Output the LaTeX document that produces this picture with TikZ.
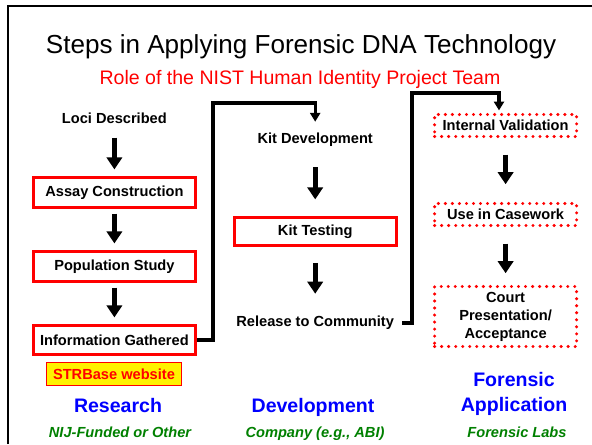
\documentclass[tikz,border=0pt]{standalone}
\usepackage{fontspec}
\setmainfont{Liberation Sans}
\usetikzlibrary{arrows.meta}
\definecolor{labgreen}{RGB}{0,128,0}
\newcommand{\stepfont}{\bfseries\fontsize{10.4}{12.8}\selectfont}
\newcommand{\headfont}{\bfseries\fontsize{13.9}{17.8}\selectfont}
\newcommand{\whofont}{\bfseries\itshape\fontsize{10.4}{12.8}\selectfont}

\begin{document}
\begin{tikzpicture}[
    steptext/.style={font=\stepfont, inner sep=0pt, minimum height=0.75cm},
    redbox/.style={draw=red, line width=2.4pt, font=\stepfont, inner sep=0pt, minimum width=4.05cm, minimum height=0.75cm},
    dotbox/.style={draw=red, line width=2.4pt, dash pattern=on 0pt off 5pt, line cap=round, font=\stepfont, inner sep=0pt, minimum width=3.55cm, minimum height=0.55cm, align=center},
    bigarrow/.style={line width=3.4pt, -{Triangle[width=0.38cm, length=0.3cm]}},
    link/.style={line width=2.3pt, -{Triangle[width=0.25cm, length=0.22cm]}},
    group/.style={font=\headfont, text=blue, align=center},
    who/.style={font=\whofont, text=labgreen, anchor=base}
  ]
  \useasboundingbox (0, 0) rectangle (14.8, 11.1);
  \draw[line width=2.1pt] (0.2, 0) -- (0.2, 10.95) -- (14.8, 10.95);

  \node[anchor=base, font=\fontsize{18.55}{22}\selectfont] (title) at (7.525, 9.775) {Steps in Applying Forensic DNA Technology};
  \node[anchor=base, text=red, font=\fontsize{13.9}{16}\selectfont] (subtitle) at (7.5, 9.0) {Role of the NIST Human Identity Project Team};

  % research
  \node[steptext] (loci) at (2.86, 8.15) {Loci Described};
  \node[redbox] (assay) at (2.86, 6.2875) {Assay Construction};
  \node[redbox] (population) at (2.86, 4.4375) {Population Study};
  \node[redbox, minimum height=0.725cm] (info) at (2.86, 2.6) {Information Gathered};
  \node[draw=red, line width=1.4pt, fill=yellow, text=red, font=\stepfont, inner sep=0pt,
        minimum width=3.375cm, minimum height=0.575cm] (strbase) at (2.85, 1.75) {STRBase website};
  \node[group, anchor=base] (research) at (2.95, 0.8) {Research};
  \node[who] (nij) at (3.0, 0.175) {NIJ-Funded or Other};

  \draw[bigarrow, shorten <=0.11cm, shorten >=0.16cm] (loci) -- (assay);
  \draw[bigarrow, shorten <=0.11cm, shorten >=0.16cm] (assay) -- (population);
  \draw[bigarrow, shorten <=0.11cm, shorten >=0.16cm] (population) -- (info);

  % development
  \node[steptext] (kitdev) at (7.88, 7.6) {Kit Development};
  \node[redbox, minimum height=0.7cm] (kittest) at (7.88, 5.3125) {Kit Testing};
  \node[steptext] (release) at (7.88, 3.025) {Release to Community};
  \node[group, anchor=base] (development) at (7.825, 0.8) {Development};
  \node[who] (company) at (7.875, 0.175) {Company (e.g., ABI)};

  \draw[bigarrow, shorten <=0.3cm, shorten >=0.41cm] (kitdev) -- (kittest);
  \draw[bigarrow, shorten <=0.39cm, shorten >=0.35cm] (kittest) -- (release);

  % forensic application
  \node[dotbox] (validation) at (12.64, 7.9625) {Internal Validation};
  \node[dotbox] (casework) at (12.64, 5.7375) {Use in Casework};
  \node[dotbox, minimum height=1.5cm] (court) at (12.64, 3.1875) {Court\\Presentation/\\Acceptance};
  \node[group] (forensic) at (12.85, 1.24) {Forensic\\Application};
  \node[who] (labs) at (12.925, 0.175) {Forensic Labs};

  \draw[bigarrow, shorten <=0.41cm, shorten >=0.44cm] (validation) -- (casework);
  \draw[bigarrow, shorten <=0.41cm, shorten >=0.29cm] (casework) -- (court);

  % hand-over lines
  \draw[link, shorten >=0.075cm] (info.east) -| (5.325, 8.525) -| (kitdev.north);
  \draw[link, shorten <=0.2cm, shorten >=0.06cm] (release.east) -| (10.3, 8.775) -| ([xshift=-0.165cm]validation.north);
\end{tikzpicture}
\end{document}
